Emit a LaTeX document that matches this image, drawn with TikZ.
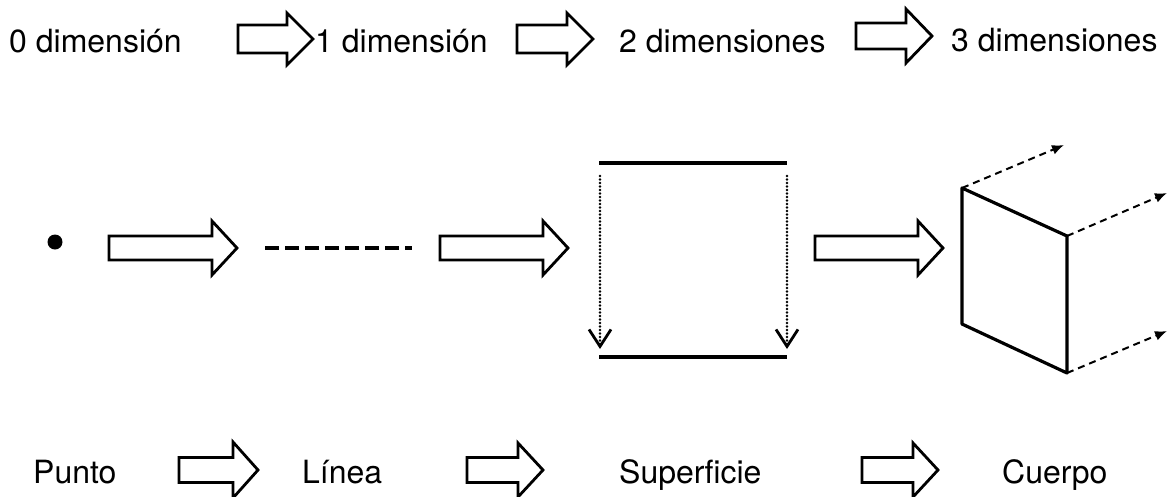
\documentclass[tikz,border=0pt]{standalone}
\usepackage{fontspec}
\setmainfont{TeX Gyre Heros}
\usetikzlibrary{arrows.meta}
\begin{document}
\begin{tikzpicture}[x=1pt,y=-1pt,
  caption/.style={anchor=base west,inner sep=0pt,font=\fontsize{32}{38}\selectfont},
  outline/.style={draw=black,line width=2.8pt,line join=miter,fill=white},
  pics/blockarrow/.style args={#1/#2/#3/#4}{code={
    \draw[outline] (0,-#2) -- ({#1-#4},-#2) -- ({#1-#4},-#3) -- (#1,0)
      -- ({#1-#4},#3) -- ({#1-#4},#2) -- (0,#2) -- cycle;}},
  edge line/.style={line width=3.4pt},
  drop/.style={line width=2.6pt,line cap=round,dash pattern=on 0pt off 3.5pt,
    -{Straight Barb[length=17pt,width=22pt,line width=2.8pt]}},
  extrude/.style={line width=2pt,dash pattern=on 7pt off 5pt,
    -{Latex[length=12pt,width=10pt]}}]
\useasboundingbox[fill=white] (0,0) rectangle (1170,496);

% top row: dimensions
\node[caption] (d0) at (9,52) {0 dimensión};
\node[caption] (d1) at (315,52) {1 dimensión};
\node[caption] (d2) at (619,52) {2 dimensiones};
\node[caption] (d3) at (951,51) {3 dimensiones};
\pic at (238,39) {blockarrow=75/14/26/26};
\pic at (517,39) {blockarrow=76/14/26/26};
\pic at (856,36) {blockarrow=76/13/27/26};

% middle row: point, line, surface, body
\node[circle,fill=black,inner sep=0pt,minimum size=15pt] (punto) at (55,242) {};
\pic at (109,248) {blockarrow=128/12/27/25};
\coordinate (la) at (265,248);
\coordinate (lb) at (412,248);
\draw[line width=3.6pt,dash pattern=on 14pt off 6pt] (la) -- (lb);
\pic at (440,248) {blockarrow=128/12/27/25};

% surface swept by a moving segment
\coordinate (stl) at (599,163);
\coordinate (str) at (787,163);
\coordinate (sbl) at (599,357);
\coordinate (sbr) at (787,357);
\draw[edge line] (stl) -- (str);
\draw[edge line] (sbl) -- (sbr);
\coordinate (pl1) at (600,176);
\coordinate (pl2) at (600,349);
\coordinate (pr1) at (787,176);
\coordinate (pr2) at (787,349);
\draw[drop] (pl1) -- (pl2);
\draw[drop] (pr1) -- (pr2);

\pic at (815,248) {blockarrow=128/12/27/25};

% body swept by a moving face
\coordinate (ftl) at (962,188);
\coordinate (fbl) at (962,324);
\coordinate (ftr) at (1067,236);
\coordinate (fbr) at (1067,373);
\draw[line width=3.2pt,line join=round] (ftl) -- (ftr) -- (fbr) -- (fbl) -- cycle;
\coordinate (e1) at (1064,145);
\coordinate (e2) at (1167,193);
\coordinate (e3) at (1167,331);
\draw[extrude] (ftl) -- (e1);
\draw[extrude] (ftr) -- (e2);
\draw[extrude] (fbr) -- (e3);

% bottom row: names
\node[caption] (n0) at (33,483) {Punto};
\node[caption] (n1) at (302,483) {Línea};
\node[caption] (n2) at (619,483) {Superficie};
\node[caption] (n3) at (1002,483) {Cuerpo};
\pic at (179,470) {blockarrow=79/12.5/28/25};
\pic at (467,470) {blockarrow=76/12.5/27/25};
\pic at (862,470) {blockarrow=76/12.5/27/25};
\end{tikzpicture}
\end{document}
